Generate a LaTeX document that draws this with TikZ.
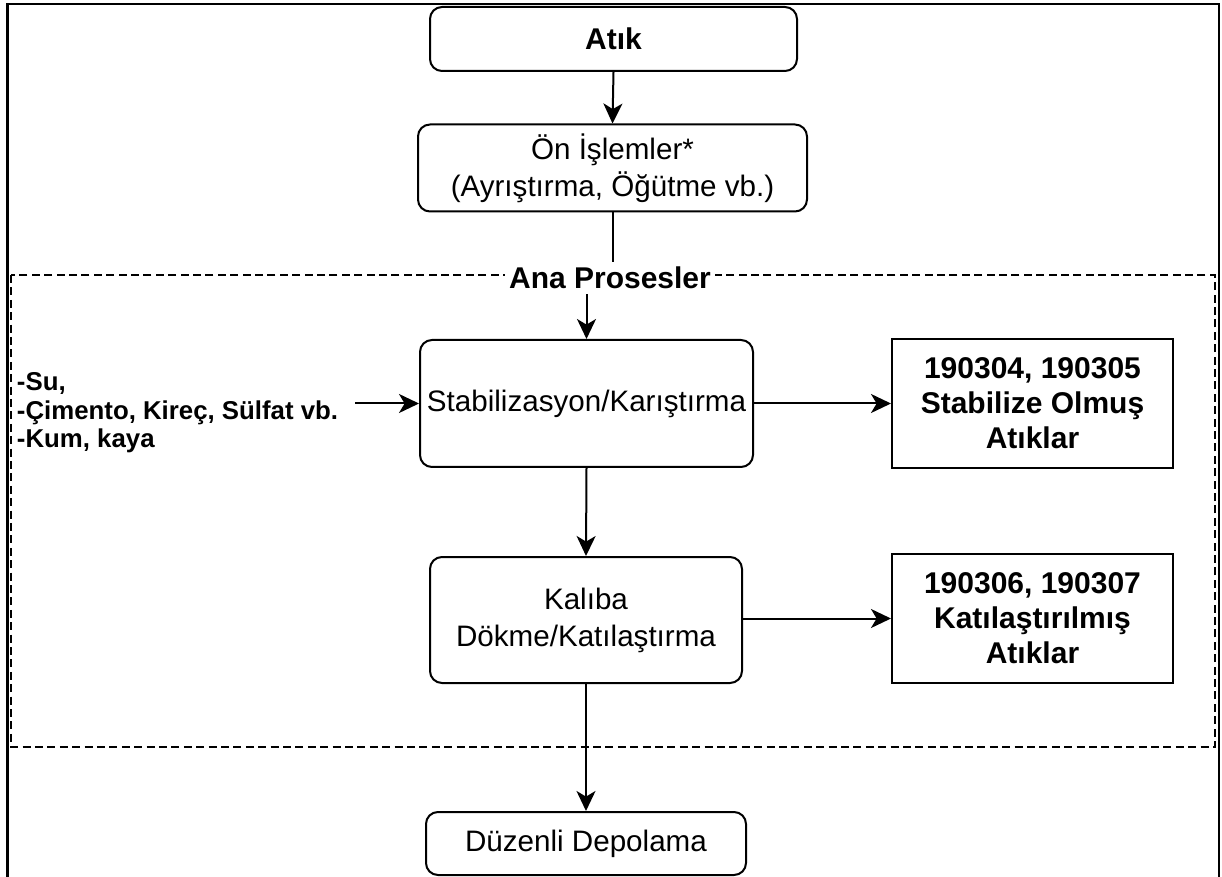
\documentclass[tikz,border=0pt]{standalone}
\usepackage{fontspec}
\setmainfont{Liberation Sans}
\usetikzlibrary{arrows.meta, positioning}
\tikzset{
  every picture/.style={line width=1pt},
  box/.style={draw, rounded corners=6pt, align=center, inner sep=2pt, font=\fontsize{14.8}{18.5}\selectfont},
  result/.style={draw, align=center, inner sep=2pt, font=\fontsize{15}{17.5}\selectfont\bfseries},
  arrow/.style={-{Stealth[length=10pt, width=9.5pt, inset=2.8pt]}},
  title/.style={font=\fontsize{15}{18}\selectfont\bfseries, fill=white, inner sep=2pt},
  note/.style={font=\fontsize{12.9}{14.2}\selectfont\bfseries, align=left, inner sep=2pt},
}

\begin{document}
\begin{tikzpicture}[x=0.5pt, y=-0.5pt,
  frame/.style={line width=1.3pt},
  group/.style={dashed, dash pattern=on 4pt off 2.2pt},
]
  \useasboundingbox (0,0) rectangle (1222,877);
  \draw[frame] (7.5,880) -- (7.5,4) -- (1219,4) -- (1219,880);
  \draw[group] (11,275) rectangle (1215,747);

  \node[box, font=\fontsize{15}{18}\selectfont\bfseries, minimum width=183.5pt, minimum height=32pt] (atik) at (613.5,39) {Atık};
  \node[box, minimum width=194.5pt, minimum height=43.5pt] (onis) at (612.5,168) {Ön İşlemler*\\ (Ayrıştırma, Öğütme vb.)};
  \node[title] (ana) at (610,278) {Ana Prosesler};

  \node[box, minimum width=166.5pt, minimum height=63.5pt] (stab) at (586.5,403.5) {Stabilizasyon/Karıştırma};
  \node[box, minimum width=156pt, minimum height=63pt] (kalip) at (586,620) {Kalıba\\ Dökme/Katılaştırma};
  \node[box, minimum width=160pt, minimum height=31.5pt] (depo) at (586,843.5) {Düzenli Depolama};

  \node[result, minimum width=140.5pt, minimum height=64.5pt] (res1) at (1032.5,403.5) {190304, 190305\\ Stabilize Olmuş\\ Atıklar};
  \node[result, minimum width=140.5pt, minimum height=64.5pt] (res2) at (1032.5,618.5) {190306, 190307\\ Katılaştırılmış\\ Atıklar};

  \node[note, anchor=west] (girdi) at (12,413) {-Su,\\ -Çimento, Kireç, Sülfat vb.\\ -Kum, kaya};

  \draw[arrow] (atik.south) -- (onis.north);
  \draw (onis.south) -- (onis.south |- ana.north);
  \draw[arrow] (stab.north |- ana.south) -- (stab.north);
  \draw[arrow, shorten <=6pt] (girdi.east |- stab.west) -- (stab.west);
  \draw[arrow] (stab.east) -- (res1.west);
  \draw[arrow] (stab.south) -- (kalip.north);
  \draw[arrow] (kalip.east |- res2.west) -- (res2.west);
  \draw[arrow] (kalip.south) -- (depo.north);
\end{tikzpicture}
\end{document}
